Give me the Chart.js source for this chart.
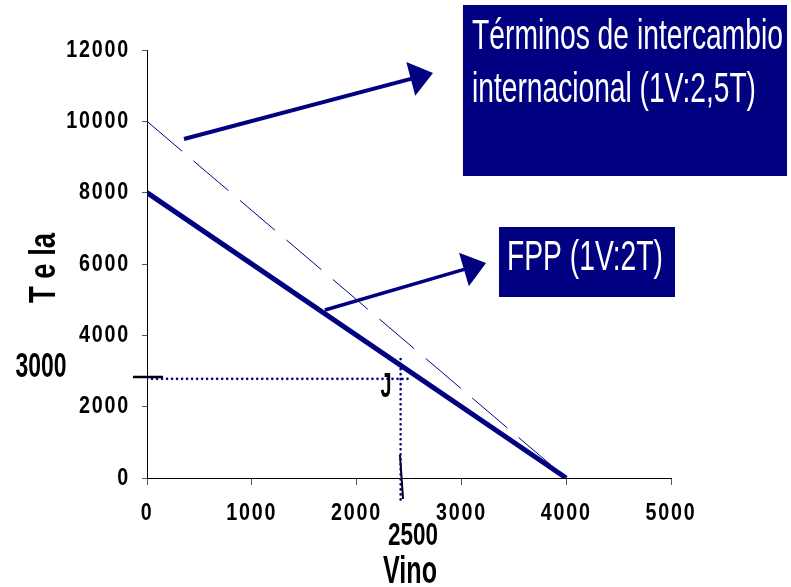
<!DOCTYPE html>
<html>
<head>
<meta charset="utf-8">
<script src="https://cdn.jsdelivr.net/npm/chart.js@4.4.1/dist/chart.umd.min.js"></script>
<style>
  html, body { margin: 0; padding: 0; background: #fff; }
  #wrap { width: 791px; height: 587px; }
</style>
</head>
<body>
<div id="wrap"><canvas id="myChart" width="791" height="587"></canvas></div>
<script>
// values
var xTicks = [0, 1000, 2000, 3000, 4000, 5000];
var yTicks = [0, 2000, 4000, 6000, 8000, 10000, 12000];

var fppVino = [0, 4000];        // FPP (1V:2T)
var fppTela = [8000, 0];
var tiVino = [0, 4000];         // terminos de intercambio (1V:2,5T)
var tiTela = [10000, 0];

var guideHVino = [0, 2510];     // dotted guides to point J
var guideHTela = [2780, 2780];
var guideVVino = [2420, 2420];
var guideVTela = [-600, 3370];

var markHVino = [-134, 153];    // short black marks at 3000 and 2500
var markHTela = [2832, 2832];
var markVVino = [2414, 2443];
var markVTela = [645, -589];

var NAVY = '#000080';
var FONT = '"Liberation Sans", Arial, sans-serif';

function pts(xs, ys) {
  return xs.map(function (x, i) { return { x: x, y: ys[i] }; });
}

// annotation places, in data units
var boxes = [
  { x0: 3015, x1: 6107, y0: 13262, y1: 8467 },
  { x0: 3359, x1: 5038, y0: 7037, y1: 5075 }
];
var arrows = [
  { from: [353, 9504], to: [2729, 11355], w: 4 },
  { from: [1698, 4710], to: [3235, 6028], w: 3.5 }
];
var texts = [
  { t: 'Términos de intercambio', x: 3101, y: 12028, size: 43, width: 311, weight: 'normal', color: '#fff', align: 'left' },
  { t: 'internacional (1V:2,5T)', x: 3101, y: 10542, size: 43, width: 284, weight: 'normal', color: '#fff', align: 'left' },
  { t: 'FPP (1V:2T)', x: 3435, y: 5832, size: 42, width: 156, weight: 'normal', color: '#fff', align: 'left' },
  { t: '3000', x: -1011, y: 2832, size: 35, width: 51, weight: 'bold', color: '#000', align: 'center' },
  { t: 'J', x: 2281, y: 2271, size: 35, width: 11, weight: 'bold', color: '#000', align: 'center' },
  { t: '2500', x: 2538, y: -1878, size: 32, width: 50, weight: 'bold', color: '#000', align: 'center' },
  { t: 'Vino', x: 2510, y: -2944, size: 39, width: 54, weight: 'bold', color: '#000', align: 'center' },
  { t: 'T e la', x: -878, y: 5888, size: 37, width: 70, weight: 'bold', color: '#000', align: 'center', rot: true }
];

function drawText(ctx, o, px, py) {
  ctx.save();
  ctx.letterSpacing = '0px';
  ctx.font = o.weight + ' ' + o.size + 'px ' + FONT;
  var m = ctx.measureText(o.t).width;
  ctx.translate(px, py);
  if (o.rot) ctx.rotate(-Math.PI / 2);
  ctx.scale(o.width / m, 1);
  ctx.fillStyle = o.color;
  ctx.textAlign = o.align;
  ctx.textBaseline = 'alphabetic';
  ctx.fillText(o.t, 0, 0);
  ctx.restore();
}

// tick labels in the picture are a narrow bold face: squeeze them while scales draw
var baseFill = CanvasRenderingContext2D.prototype.fillText;
function narrowFill(t, x, y) {
  this.save();
  this.translate(x, y);
  this.scale(0.82, 1);
  baseFill.call(this, t, 0, 0);
  this.restore();
}

var extras = {
  id: 'extras',
  beforeDraw: function (chart) {
    chart.ctx.letterSpacing = '2.2px';
    chart.ctx.fillText = narrowFill;
  },
  beforeDatasetsDraw: function (chart) {
    chart.ctx.letterSpacing = '0px';
    delete chart.ctx.fillText;
  },
  afterDraw: function (chart) {
    var ctx = chart.ctx, sx = chart.scales.x, sy = chart.scales.y;
    ctx.save();
    boxes.forEach(function (b) {
      var l = sx.getPixelForValue(b.x0), r = sx.getPixelForValue(b.x1);
      var t = sy.getPixelForValue(b.y0), btm = sy.getPixelForValue(b.y1);
      ctx.fillStyle = NAVY;
      ctx.fillRect(l, t, r - l, btm - t);
    });
    arrows.forEach(function (a) {
      var x0 = sx.getPixelForValue(a.from[0]), y0 = sy.getPixelForValue(a.from[1]);
      var x1 = sx.getPixelForValue(a.to[0]), y1 = sy.getPixelForValue(a.to[1]);
      var ang = Math.atan2(y1 - y0, x1 - x0);
      var len = 23, hw = 17.5;
      var bx = x1 - len * Math.cos(ang), by = y1 - len * Math.sin(ang);
      ctx.strokeStyle = NAVY;
      ctx.lineWidth = a.w;
      ctx.beginPath();
      ctx.moveTo(x0, y0);
      ctx.lineTo(bx + 2 * Math.cos(ang), by + 2 * Math.sin(ang));
      ctx.stroke();
      ctx.fillStyle = NAVY;
      ctx.beginPath();
      ctx.moveTo(x1, y1);
      ctx.lineTo(bx + hw * Math.sin(ang), by - hw * Math.cos(ang));
      ctx.lineTo(bx - hw * Math.sin(ang), by + hw * Math.cos(ang));
      ctx.closePath();
      ctx.fill();
    });
    texts.forEach(function (o) {
      drawText(ctx, o, sx.getPixelForValue(o.x), sy.getPixelForValue(o.y));
    });
    ctx.restore();
  }
};

var contx = document.getElementById('myChart').getContext('2d');
var myChart = new Chart(contx, {
  type: 'scatter',
  data: {
    datasets: [{
      label: 'FPP',
      data: pts(fppVino, fppTela),
      showLine: true,
      borderColor: NAVY,
      borderWidth: 5,
      pointRadius: 0
    }, {
      label: 'Terminos',
      data: pts(tiVino, tiTela),
      showLine: true,
      borderColor: NAVY,
      borderWidth: 1,
      borderDash: [46, 15],
      pointRadius: 0
    }, {
      label: 'guia H',
      data: pts(guideHVino, guideHTela),
      showLine: true,
      borderColor: NAVY,
      borderWidth: 2.6,
      borderDash: [0.01, 5],
      borderCapStyle: 'round',
      pointRadius: 0
    }, {
      label: 'guia V',
      data: pts(guideVVino, guideVTela),
      showLine: true,
      borderColor: NAVY,
      borderWidth: 2.6,
      borderDash: [0.01, 5],
      borderCapStyle: 'round',
      pointRadius: 0,
      clip: false
    }, {
      label: 'marca 3000',
      data: pts(markHVino, markHTela),
      showLine: true,
      borderColor: '#000',
      borderWidth: 2.5,
      pointRadius: 0,
      clip: false
    }, {
      label: 'marca 2500',
      data: pts(markVVino, markVTela),
      showLine: true,
      borderColor: '#000',
      borderWidth: 2,
      pointRadius: 0,
      clip: false
    }]
  },
  options: {
    responsive: false,
    animation: false,
    layout: { padding: { top: 50, right: 120, left: 0, bottom: 0 } },
    plugins: { legend: { display: false }, tooltip: { enabled: false } },
    scales: {
      x: {
        type: 'linear',
        min: 0,
        max: 5000,
        afterBuildTicks: function (s) { s.ticks = xTicks.map(function (v) { return { value: v }; }); },
        afterFit: function (s) { s.height = 109; },
        grid: { drawOnChartArea: false, drawTicks: true, tickLength: 7, color: '#555' },
        border: { display: true, color: '#000', width: 1 },
        ticks: {
          color: '#000',
          padding: 14,
          maxRotation: 0,
          callback: function (v) { return String(v); },
          font: { family: FONT, size: 24, weight: 'bold' }
        }
      },
      y: {
        type: 'linear',
        min: 0,
        max: 12000,
        afterBuildTicks: function (s) { s.ticks = yTicks.map(function (v) { return { value: v }; }); },
        afterFit: function (s) { s.width = 147; },
        grid: { drawOnChartArea: false, drawTicks: true, tickLength: 5, color: '#555' },
        border: { display: true, color: '#000', width: 1 },
        ticks: {
          color: '#000',
          padding: 12,
          callback: function (v) { return String(v); },
          font: { family: FONT, size: 24, weight: 'bold' }
        }
      }
    }
  },
  plugins: [extras]
});
</script>
</body>
</html>
